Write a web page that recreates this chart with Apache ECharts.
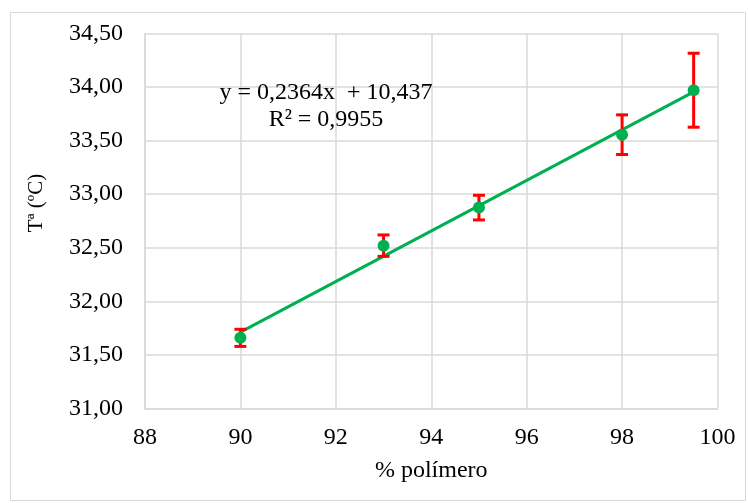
<!DOCTYPE html>
<html><head><meta charset="utf-8">
<script src="https://cdn.jsdelivr.net/npm/echarts@6/dist/echarts.min.js"></script>
<style>html,body{margin:0;padding:0;background:#fff}#c{width:748px;height:503px}</style>
</head><body><div id="c"></div>
<script>
var xValues = [90, 93, 95, 98, 99.5];
var yValues = [31.66, 32.52, 32.875, 33.555, 33.97];
var yErrors = [0.08, 0.10, 0.115, 0.185, 0.345];
var trendX = [90, 99.5];
var trendY = [31.713, 33.955];
var xTicks = [88, 90, 92, 94, 96, 98, 100];
var yTicks = [31.0, 31.5, 32.0, 32.5, 33.0, 33.5, 34.0, 34.5];
var equationText = 'y = 0,2364x  + 10,437';
var r2Text = 'R² = 0,9955';
var xTitle = '% polímero';
var yTitle = 'Tª (ºC)';

var font = 'Liberation Serif';
var chart = echarts.init(document.getElementById('c'));
var pts = xValues.map(function(x, i){ return [x, yValues[i]]; });
var errData = xValues.map(function(x, i){ return [x, yValues[i] - yErrors[i], yValues[i] + yErrors[i]]; });
var trend = trendX.map(function(x, i){ return [x, trendY[i]]; });

chart.setOption({
  animation: false,
  backgroundColor: '#fff',
  graphic: [
    {type:'rect', shape:{x:10.5,y:12.5,width:735,height:488}, style:{fill:'none', stroke:'#d9d9d9', lineWidth:1}, z:-1},
    {type:'text', x:326, y:93, z:10, style:{text:equationText, fill:'#000', font:'24px "Liberation Serif"', align:'center', verticalAlign:'middle'}},
    {type:'text', x:326, y:120, z:10, style:{text:r2Text, fill:'#000', font:'24px "Liberation Serif"', align:'center', verticalAlign:'middle'}},
    {type:'text', x:36, y:203, rotation:Math.PI/2, z:10, style:{text:yTitle, fill:'#000', font:'21px "Liberation Serif"', align:'center', verticalAlign:'middle'}}
  ],
  grid: {left:145, right:30.5, top:33.4, bottom:94.4, containLabel:false},
  xAxis: {
    type:'value', min:xTicks[0], max:xTicks[xTicks.length-1], interval:2,
    axisLine:{show:true, onZero:false, lineStyle:{color:'#d9d9d9', width:1.5}},
    axisTick:{show:false},
    splitLine:{show:true, lineStyle:{color:'#d9d9d9', width:1.5}},
    axisLabel:{color:'#000', fontFamily:font, fontSize:24, margin:17},
    name:xTitle, nameLocation:'middle', nameGap:50,
    nameTextStyle:{color:'#000', fontFamily:font, fontSize:24}
  },
  yAxis: {
    type:'value', min:yTicks[0], max:yTicks[yTicks.length-1], interval:0.5,
    axisLine:{show:true, onZero:false, lineStyle:{color:'#d9d9d9', width:1.5}},
    axisTick:{show:false},
    splitLine:{show:true, lineStyle:{color:'#d9d9d9', width:1.5}},
    axisLabel:{color:'#000', fontFamily:font, fontSize:24, margin:22,
      formatter:function(v){ return v.toFixed(2).replace('.', ','); }}
  },
  series: [
    {
      type:'line', data:trend, symbol:'none', z:3,
      lineStyle:{color:'#00b050', width:3}
    },
    {
      type:'custom', z:4, data:errData,
      encode:{x:0, y:[1,2]},
      renderItem:function(params, api){
        var x = api.value(0);
        var lo = api.coord([x, api.value(1)]);
        var hi = api.coord([x, api.value(2)]);
        var hw = 6;
        var st = {stroke:'#ff0000', lineWidth:3, fill:'none'};
        return {type:'group', children:[
          {type:'line', shape:{x1:lo[0], y1:lo[1], x2:hi[0], y2:hi[1]}, style:st},
          {type:'line', shape:{x1:lo[0]-hw, y1:lo[1], x2:lo[0]+hw, y2:lo[1]}, style:st},
          {type:'line', shape:{x1:hi[0]-hw, y1:hi[1], x2:hi[0]+hw, y2:hi[1]}, style:st}
        ]};
      }
    },
    {
      type:'scatter', data:pts, symbol:'circle', symbolSize:12, z:5,
      itemStyle:{color:'#00b050', opacity:1}
    }
  ]
});
</script>
</body></html>
